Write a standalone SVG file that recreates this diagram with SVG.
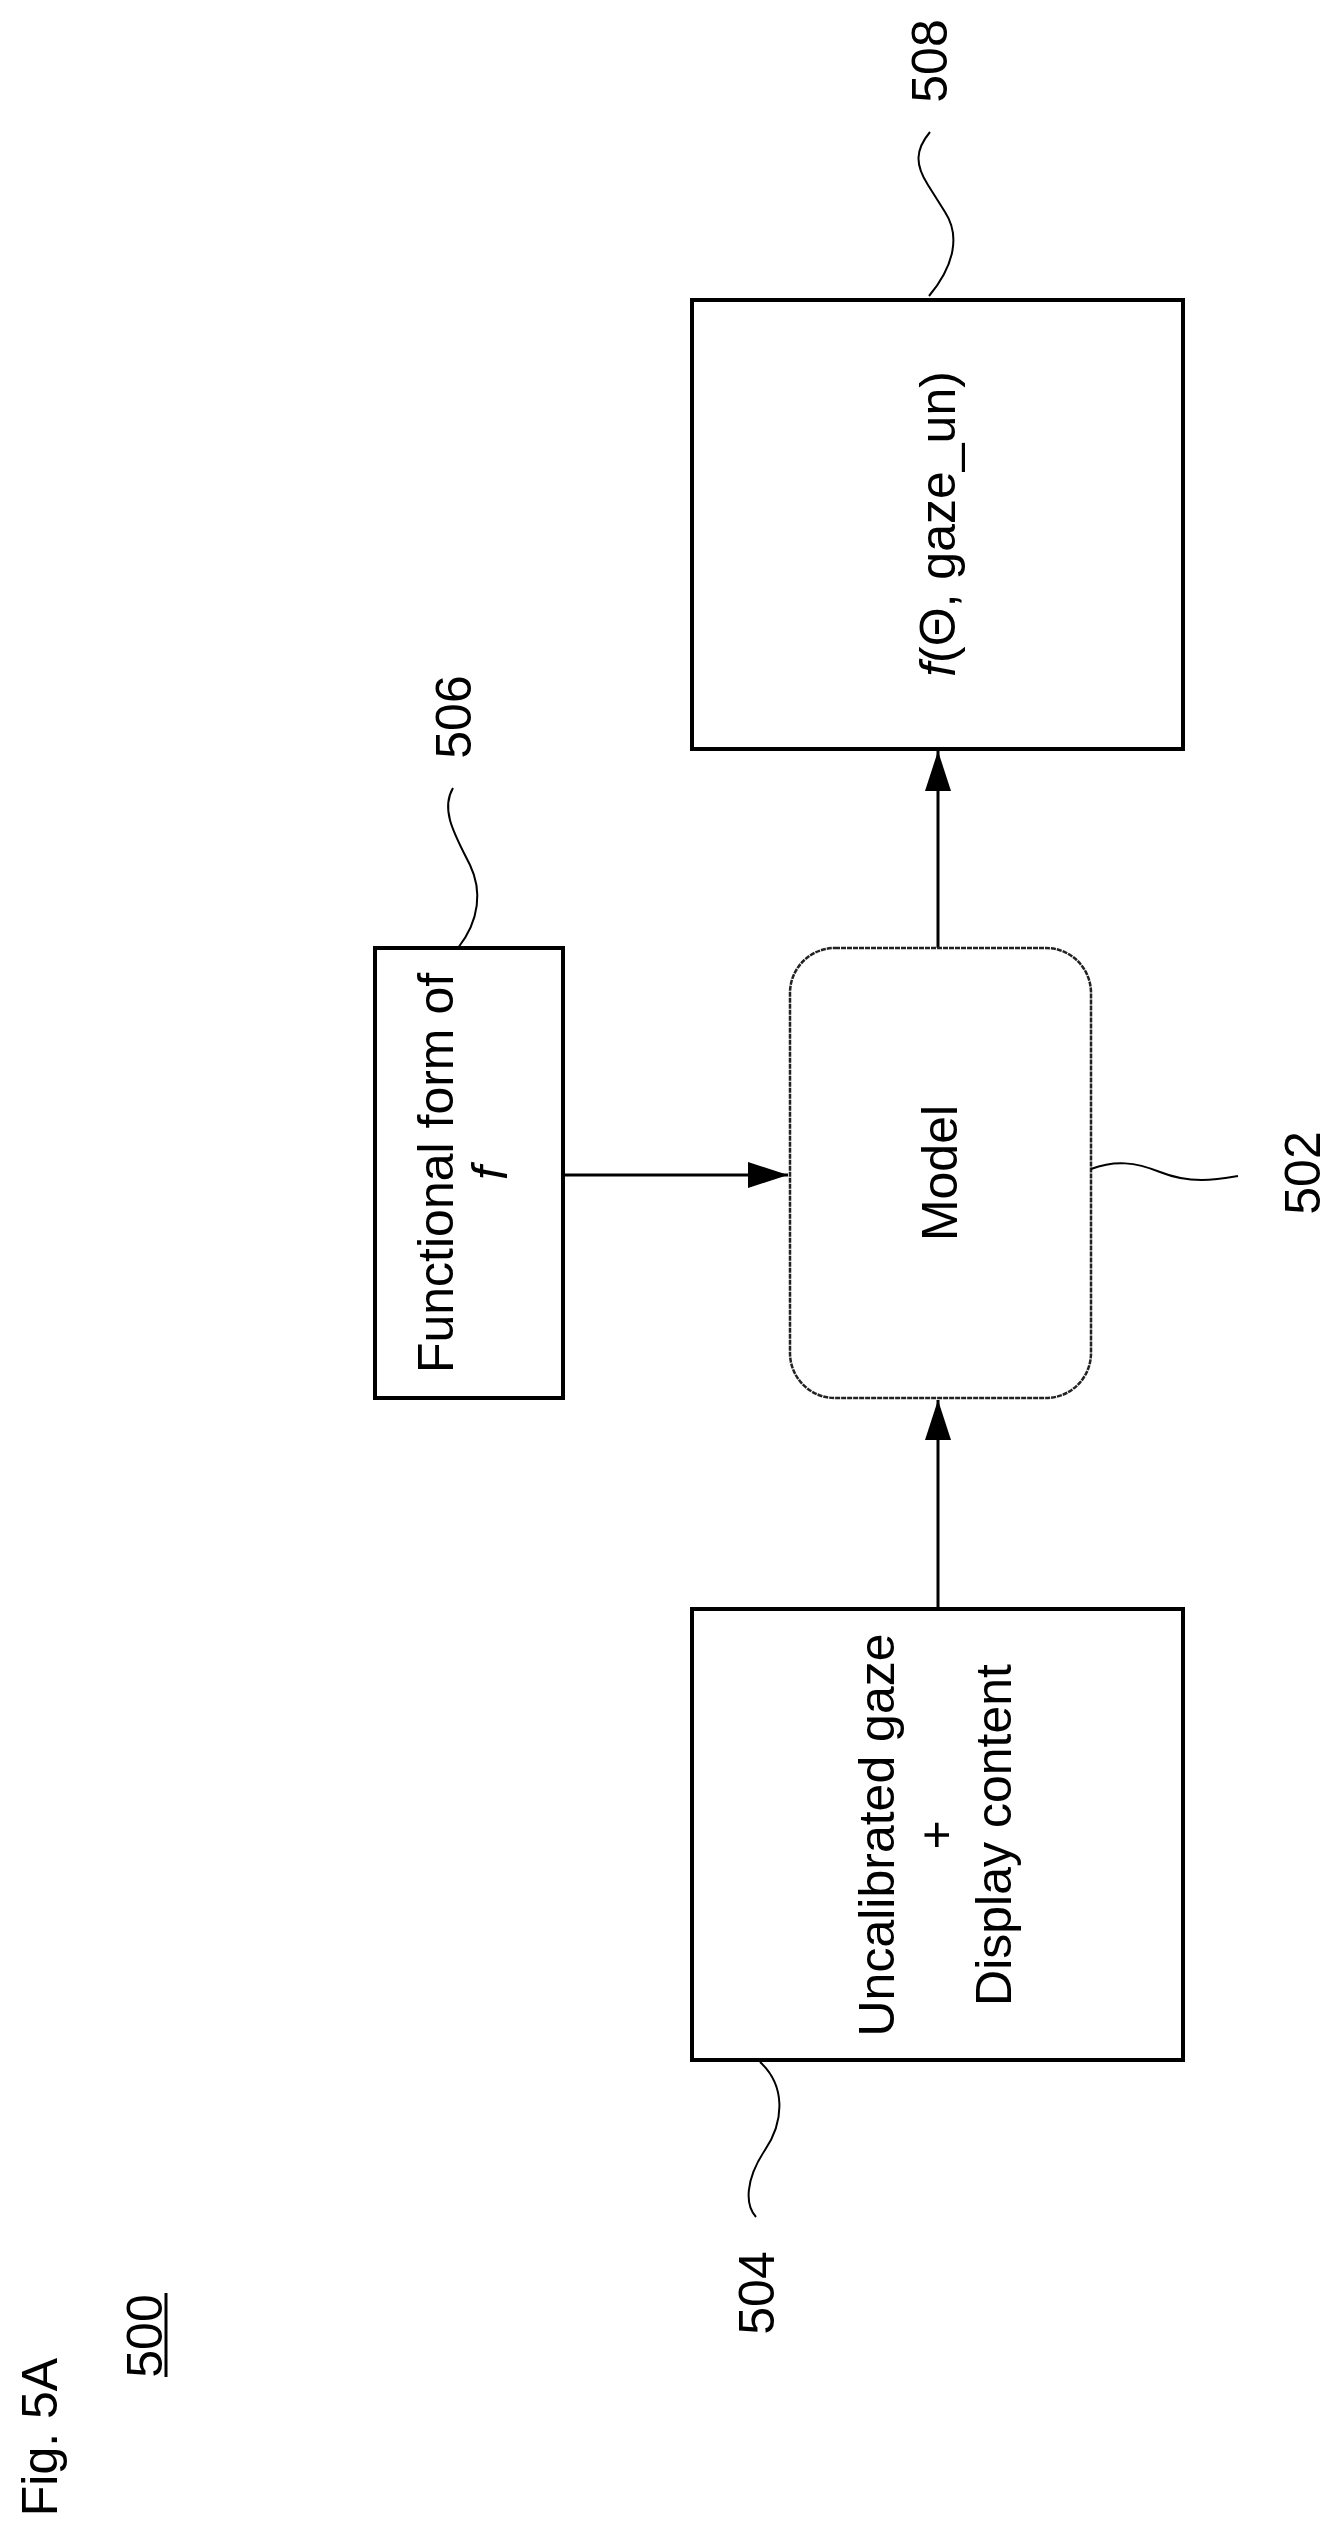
<svg xmlns="http://www.w3.org/2000/svg" width="1339" height="2535" viewBox="0 0 1339 2535">
<style>
text{font-family:"Liberation Sans",Arial,sans-serif;font-size:50px;fill:#000;text-anchor:middle}
.box{fill:#fff;stroke:#000;stroke-width:4}
.rbox{fill:#fff;stroke:#222;stroke-width:2.5;stroke-dasharray:5 1}
.lead{fill:none;stroke:#000;stroke-width:2}
.conn{stroke:#000;stroke-width:3;fill:none}
</style>
<defs>
<marker id="ah" markerUnits="userSpaceOnUse" markerWidth="40" markerHeight="26" refX="40" refY="13" orient="auto">
<path d="M0,0 L40,13 L0,26 Z" fill="#000"/>
</marker>
</defs>
<rect width="1339" height="2535" fill="#fff"/>
<g id="title">
<text transform="translate(57,2437) rotate(-90)">Fig. 5A</text>
<text transform="translate(162,2336) rotate(-90)">500</text>
<line x1="166" y1="2293" x2="166" y2="2377" stroke="#000" stroke-width="3"/>
</g>
<g id="connectors">
<line class="conn" x1="938" y1="1609" x2="938" y2="1400" marker-end="url(#ah)"/>
<line class="conn" x1="563" y1="1175" x2="788" y2="1175" marker-end="url(#ah)"/>
<line class="conn" x1="938" y1="948" x2="938" y2="751" stroke-width="2" marker-end="url(#ah)"/>
</g>
<g id="n508">
<rect class="box" x="692" y="300" width="491" height="449"/>
<text transform="translate(955,524) rotate(-90)"><tspan font-style="italic">f</tspan>(Θ, gaze_un)</text>
<path class="lead" d="M929,296 C955,265 960,235 945,212 L928,185 C915,165 915,150 930,132"/>
<text transform="translate(947,61) rotate(-90)">508</text>
</g>
<g id="n506">
<rect class="box" x="375" y="948" width="188" height="450"/>
<text transform="translate(453,1173) rotate(-90)">Functional form of</text>
<text transform="translate(507,1173) rotate(-90)" font-style="italic">f</text>
<path class="lead" d="M458,948 C480,920 482,890 470,865 C455,835 440,810 453,788"/>
<text transform="translate(471,717) rotate(-90)">506</text>
</g>
<g id="n502">
<rect class="rbox" x="790" y="948" width="301" height="450" rx="45" ry="45"/>
<text transform="translate(957,1173) rotate(-90)">Model</text>
<path class="lead" d="M1091,1169 C1115,1160 1135,1162 1160,1172 C1190,1184 1215,1180 1238,1176"/>
<text transform="translate(1320,1173) rotate(-90)">502</text>
</g>
<g id="n504">
<rect class="box" x="692" y="1609" width="491" height="451"/>
<text transform="translate(894,1835) rotate(-90)">Uncalibrated gaze</text>
<text transform="translate(953,1835) rotate(-90)">+</text>
<text transform="translate(1011,1835) rotate(-90)">Display content</text>
<path class="lead" d="M760,2062 C785,2085 785,2120 765,2150 C745,2180 745,2205 756,2217"/>
<text transform="translate(774,2293) rotate(-90)">504</text>
</g>
</svg>
